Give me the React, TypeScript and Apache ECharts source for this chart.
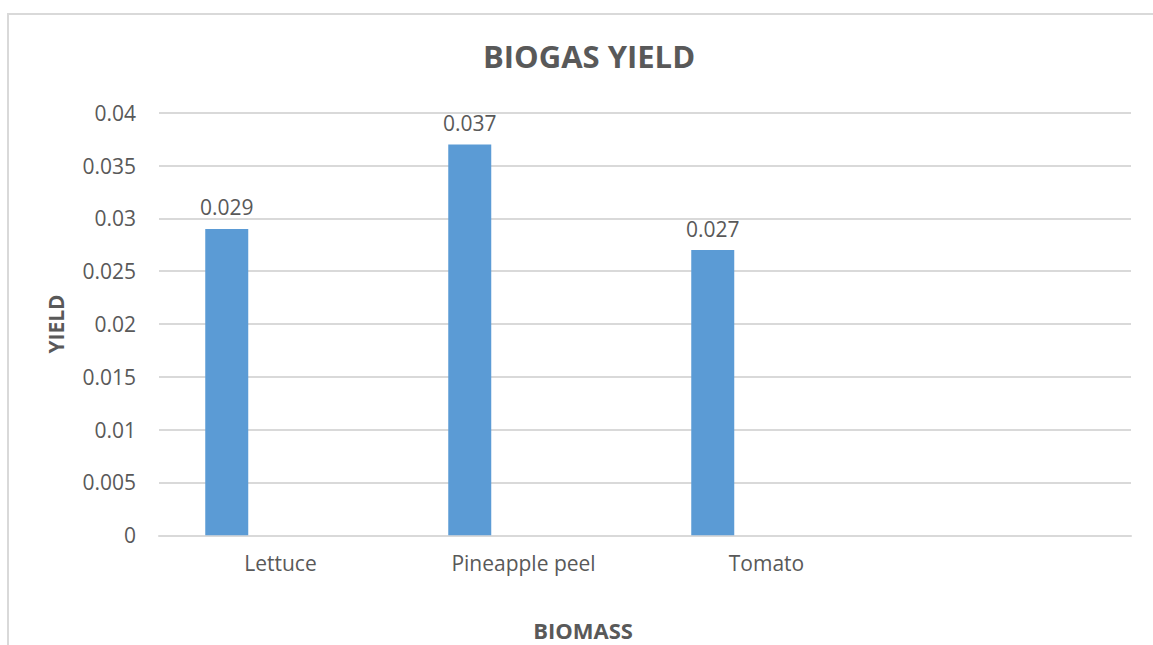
import React, { useEffect, useRef } from "react";
import * as echarts from "echarts";

const categories = ["Lettuce", "Pineapple peel", "Tomato", ""];
const yieldValues: (number | string)[] = [0.029, 0.037, 0.027, "-"];
const emptySeries: (number | string)[] = ["-", "-", "-", "-"];
const yMin = 0;
const yMax = 0.04;
const yInterval = 0.005;

const TEXT = "#595959";
const GRID = "#d9d9d9";
const FONT = "'Open Sans', 'Liberation Sans', sans-serif";

export default function App() {
  const ref = useRef<HTMLDivElement>(null);
  useEffect(() => {
    if (!ref.current) return;
    const chart = echarts.init(ref.current, undefined, { renderer: "svg" });
    chart.setOption({
      animation: false,
      backgroundColor: "#ffffff",
      textStyle: { fontFamily: FONT },
      title: {
        text: "BIOGAS YIELD",
        left: 584,
        top: 35,
        textAlign: "center",
        textStyle: { fontFamily: FONT, fontSize: 31, fontWeight: "bold", color: TEXT },
      },
      graphic: [
        {
          type: "rect",
          shape: { x: 8, y: 14, width: 1160, height: 660 },
          style: { fill: "none", stroke: GRID, lineWidth: 2 },
          silent: true,
          z: -1,
        },
        {
          type: "text",
          x: 583,
          y: 630,
          style: {
            text: "BIOMASS",
            fontFamily: FONT,
            fontSize: 22,
            fontWeight: "bold",
            fill: TEXT,
            align: "center",
            verticalAlign: "middle",
          },
          silent: true,
        },
      ],
      grid: { left: 159, right: 22, top: 112.7, bottom: 109.7, containLabel: false },
      xAxis: {
        type: "category",
        data: categories,
        axisLine: { show: true, lineStyle: { color: GRID, width: 2 } },
        axisTick: { show: false },
        axisLabel: { fontFamily: FONT, fontSize: 21, color: TEXT, margin: 17 },
        splitLine: { show: false },
      },
      yAxis: {
        type: "value",
        min: yMin,
        max: yMax,
        interval: yInterval,
        name: "YIELD",
        nameLocation: "middle",
        nameGap: 93,
        nameRotate: 90,
        nameTextStyle: { fontFamily: FONT, fontSize: 21, fontWeight: "bold", color: TEXT },
        axisLine: { show: false },
        axisTick: { show: false },
        axisLabel: { fontFamily: FONT, fontSize: 21, color: TEXT, margin: 23 },
        splitLine: { show: true, lineStyle: { color: GRID, width: 2 } },
      },
      series: [
        {
          type: "bar",
          name: "Yield",
          data: yieldValues,
          barWidth: 43,
          barGap: "150%",
          itemStyle: { color: "#5b9bd5" },
          label: {
            show: true,
            position: "top",
            distance: 11,
            fontFamily: FONT,
            fontSize: 21,
            color: TEXT,
          },
        },
        {
          type: "bar",
          name: "Empty",
          data: emptySeries,
          barWidth: 43,
          itemStyle: { color: "#ed7d31" },
        },
      ],
    });
    return () => chart.dispose();
  }, []);
  return (
    <div
      ref={ref}
      style={{ position: "fixed", left: 0, top: 0, width: 1153, height: 645, background: "#fff" }}
    />
  );
}
